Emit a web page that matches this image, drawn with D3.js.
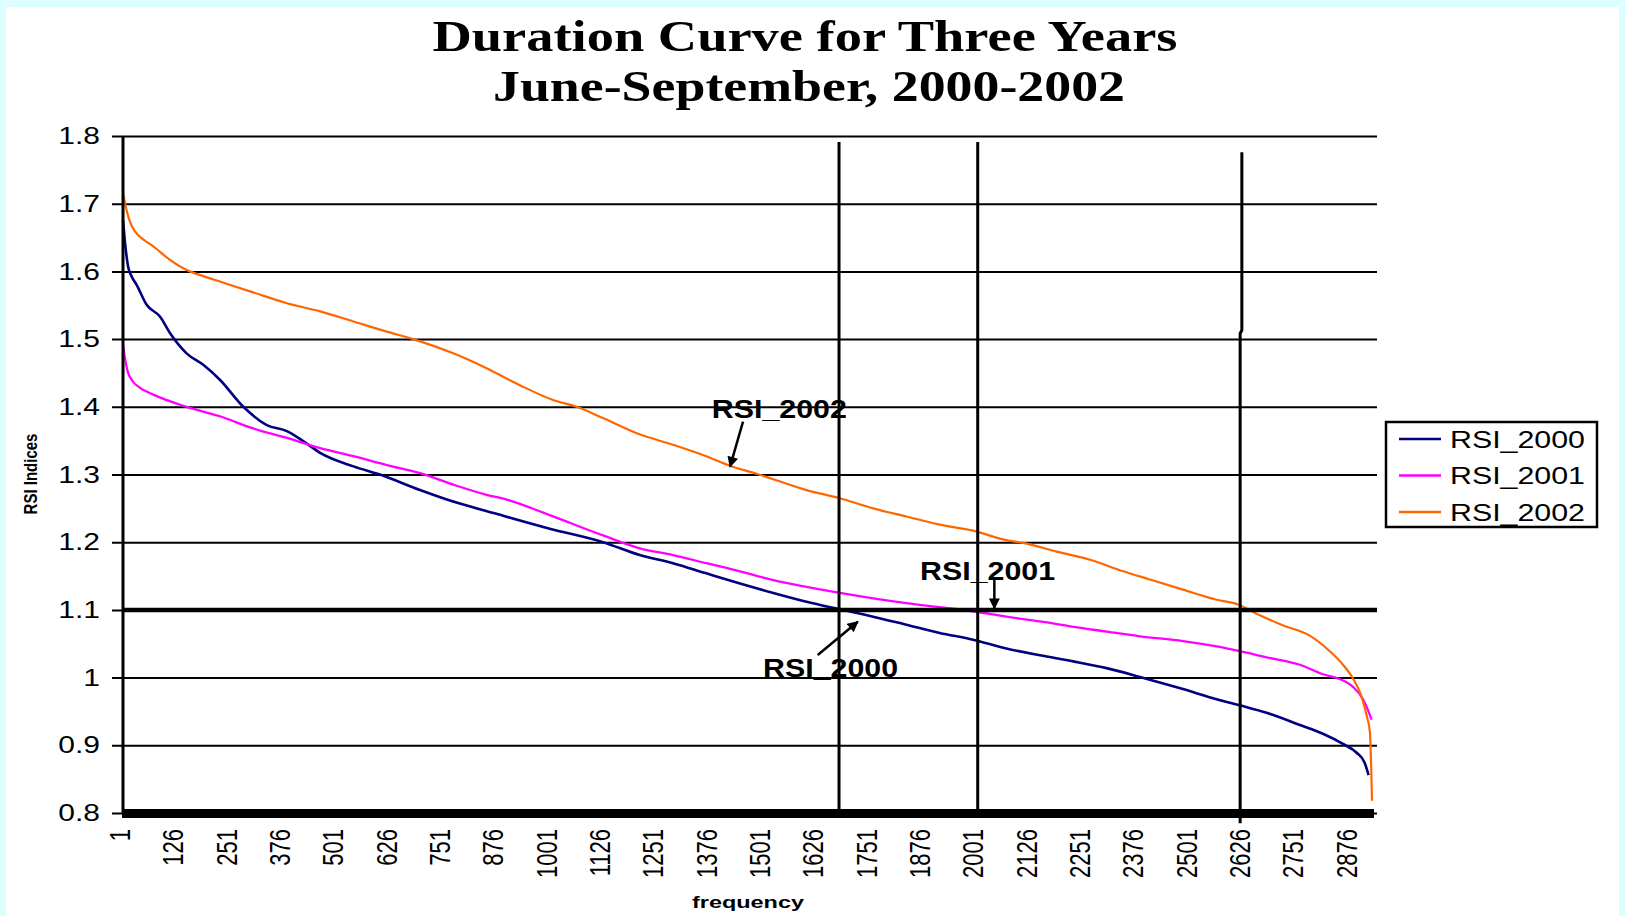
<!DOCTYPE html>
<html><head><meta charset="utf-8">
<script src="https://cdn.jsdelivr.net/npm/d3@7"></script>
<style>html,body{margin:0;padding:0;background:#fff;overflow:hidden}</style>
</head><body><svg id="c" width="1625" height="916"></svg>
<script>
// ---------- data ----------
const titleLines = ["Duration Curve for Three Years", "June-September, 2000-2002"];
const xTitle = "frequency";
const yTitle = "RSI Indices";
const xTicks = [1,126,251,376,501,626,751,876,1001,1126,1251,1376,1501,1626,1751,1876,2001,2126,2251,2376,2501,2626,2751,2876];
const yTicks = [0.8,0.9,1.0,1.1,1.2,1.3,1.4,1.5,1.6,1.7,1.8];
const yTickLabels = ["0.8","0.9","1","1.1","1.2","1.3","1.4","1.5","1.6","1.7","1.8"];
const seriesNames = ["RSI_2000","RSI_2001","RSI_2002"];
const seriesColors = ["#000080","#FF00FF","#FF6600"];

const freq2000 = [1,5,13,21,33,56,88,111,150,189,228,283,338,385,424,463,541,603,697,760,876,1001,1126,1212,1290,1368,1447,1525,1603,1673,1759,1837,1915,1993,2071,2150,2228,2306,2384,2485,2564,2618,2681,2759,2813,2860,2892,2911,2920];
const rsi2000 = [1.676,1.647,1.607,1.593,1.580,1.551,1.533,1.509,1.479,1.462,1.440,1.400,1.373,1.364,1.349,1.332,1.312,1.300,1.277,1.263,1.242,1.220,1.200,1.181,1.169,1.154,1.139,1.125,1.112,1.102,1.090,1.078,1.066,1.056,1.043,1.033,1.024,1.014,1.001,0.983,0.968,0.959,0.948,0.930,0.917,0.902,0.889,0.874,0.856];

const freq2001 = [1,5,13,21,41,72,150,228,306,385,463,541,619,697,775,853,900,1001,1126,1212,1290,1368,1447,1525,1603,1681,1759,1837,1915,1993,2071,2150,2228,2306,2384,2485,2564,2618,2681,2759,2813,2852,2884,2907,2923,2927];
const rsi2001 = [1.492,1.474,1.450,1.440,1.428,1.418,1.400,1.386,1.368,1.354,1.339,1.327,1.314,1.302,1.285,1.270,1.263,1.240,1.210,1.191,1.181,1.169,1.157,1.144,1.134,1.125,1.117,1.110,1.104,1.098,1.090,1.083,1.075,1.068,1.061,1.054,1.046,1.039,1.030,1.019,1.005,0.998,0.986,0.968,0.945,0.938];

const freq2002 = [1,10,17,29,49,72,111,150,189,228,306,385,463,541,619,681,775,853,931,1009,1064,1127,1213,1290,1368,1423,1486,1525,1603,1681,1759,1837,1915,1993,2071,2110,2189,2267,2345,2407,2485,2564,2614,2665,2720,2782,2829,2860,2884,2903,2915,2923,2926,2928];
const rsi2002 = [1.716,1.689,1.674,1.659,1.647,1.637,1.617,1.602,1.593,1.585,1.569,1.553,1.541,1.526,1.511,1.500,1.479,1.457,1.432,1.410,1.400,1.383,1.359,1.344,1.327,1.313,1.301,1.293,1.277,1.265,1.250,1.238,1.226,1.217,1.203,1.199,1.186,1.174,1.157,1.145,1.130,1.115,1.108,1.092,1.077,1.062,1.039,1.019,0.998,0.973,0.945,0.920,0.870,0.818];

const refLevel = 1.1;
const markerFreqs = [1679, 2004];
const marker3Freqs = [2623, 2619];   // drawn line with a small jog
const marker3Jog = 1.513;
const annotations = [
  {text:"RSI_2002", tx:1381, ty:1.3835, from:[1454,1.378], to:[1423.6,1.3115]},
  {text:"RSI_2001", tx:1869, ty:1.1442, from:[2043,1.1442], to:[2043,1.1024]},
  {text:"RSI_2000", tx:1501, ty:1.0009, from:[1629,1.0334], to:[1723,1.0826]}
];

// ---------- chart ----------
const svg = d3.select("#c");
svg.append("rect").attr("width",1625).attr("height",916).attr("fill","#DDFEFF");
svg.append("rect").attr("x",6).attr("y",7).attr("width",1613).attr("height",909).attr("fill","#fff");

const x = d3.scaleLinear().domain([1, 2928]).range([123, 1372]);
const y = d3.scaleLinear().domain([0.8, 1.8]).range([813, 136]);
const plotRight = 1377;

const defs = svg.append("defs");
defs.append("marker").attr("id","arr").attr("viewBox","0 0 10 10").attr("refX",9).attr("refY",5)
  .attr("markerUnits","userSpaceOnUse").attr("markerWidth",12).attr("markerHeight",11).attr("orient","auto")
  .append("path").attr("d","M0,0 L10,5 L0,10 z").attr("fill","#000");

// title
titleLines.forEach((t,i)=>{
  svg.append("text").attr("x", i===0?805:809).attr("y", i===0?51:101)
    .attr("text-anchor","middle").attr("font-family","'Liberation Serif','Times New Roman',serif")
    .attr("font-weight","bold").attr("font-size",45)
    .attr("textLength", i===0?745:632).attr("lengthAdjust","spacingAndGlyphs")
    .attr("fill","#000").text(t);
});

// y axis with gridlines
const gy = svg.append("g").attr("transform","translate(123,0)")
  .call(d3.axisLeft(y).tickValues(yTicks).tickFormat((d,i)=>yTickLabels[i])
        .tickSizeInner(-(plotRight-123)).tickSizeOuter(0).tickPadding(23));
gy.select(".domain").remove();
gy.selectAll(".tick line").attr("x1",-11).attr("stroke","#000").attr("stroke-width",2);
gy.selectAll(".tick text").attr("x",0).attr("transform","translate(-23,0) scale(1.25,1)")
  .attr("font-family","'Liberation Sans',Arial,sans-serif").attr("font-size",24).attr("fill","#000");

// x axis labels
const gx = svg.append("g").attr("transform","translate(0,813)")
  .call(d3.axisBottom(x).tickValues(xTicks).tickSize(0).tickFormat(d3.format("d")));
gx.select(".domain").remove();
gx.selectAll(".tick text").attr("x",0).attr("y",0).attr("dy","0.35em")
  .attr("text-anchor","end").attr("transform","translate(-3.5,16) scale(1.3,1) rotate(-90)")
  .attr("font-family","'Liberation Sans',Arial,sans-serif").attr("font-size",22).attr("fill","#000");

// axis titles
svg.append("text").attr("transform","translate(30,474) scale(1.25,1) rotate(-90)")
  .attr("text-anchor","middle").attr("dy","0.35em")
  .attr("font-family","'Liberation Sans',Arial,sans-serif").attr("font-weight","bold").attr("font-size",15)
  .attr("fill","#000").text(yTitle);
svg.append("text").attr("x",748).attr("y",908).attr("text-anchor","middle")
  .attr("font-family","'Liberation Sans',Arial,sans-serif").attr("font-weight","bold").attr("font-size",16)
  .attr("textLength",112).attr("lengthAdjust","spacingAndGlyphs").attr("fill","#000").text(xTitle);

// series
const series = [
  {f:freq2000, v:rsi2000, w:2.6},
  {f:freq2001, v:rsi2001, w:2.3},
  {f:freq2002, v:rsi2002, w:2.2}
];
const line = d3.line().x(d=>x(d[0])).y(d=>y(d[1])).curve(d3.curveMonotoneX);
series.forEach((s,i)=>{
  svg.append("path").attr("d", line(s.f.map((f,j)=>[f,s.v[j]])))
    .attr("fill","none").attr("stroke",seriesColors[i]).attr("stroke-width",s.w)
    .attr("stroke-linejoin","round");
});

// reference line at 1.1
svg.append("line").attr("x1",x(1)).attr("x2",plotRight).attr("y1",y(refLevel)).attr("y2",y(refLevel))
  .attr("stroke","#000").attr("stroke-width",4.5);
// axes
svg.append("rect").attr("x",122).attr("y",y(0.8)-4).attr("width",1374-122).attr("height",9).attr("fill","#000");
svg.append("line").attr("x1",123).attr("x2",123).attr("y1",y(1.8)).attr("y2",y(0.8)).attr("stroke","#000").attr("stroke-width",3);

// vertical marker lines
markerFreqs.forEach(f=>{
  svg.append("line").attr("x1",x(f)).attr("x2",x(f)).attr("y1",y(1.791)).attr("y2",y(0.8))
    .attr("stroke","#000").attr("stroke-width",3);
});
svg.append("path").attr("d",
  `M${x(marker3Freqs[0])},${y(1.776)} L${x(marker3Freqs[0])},${y(marker3Jog)} L${x(marker3Freqs[1])},${y(marker3Jog)+3} L${x(marker3Freqs[1])},${y(0.785)}`)
  .attr("fill","none").attr("stroke","#000").attr("stroke-width",3);

// annotations
annotations.forEach(a=>{
  svg.append("text").attr("x",x(a.tx)).attr("y",y(a.ty))
    .attr("font-family","'Liberation Sans',Arial,sans-serif").attr("font-weight","bold").attr("font-size",25)
    .attr("textLength",135).attr("lengthAdjust","spacingAndGlyphs").attr("fill","#000").text(a.text);
  svg.append("line").attr("x1",x(a.from[0])).attr("y1",y(a.from[1])).attr("x2",x(a.to[0])).attr("y2",y(a.to[1]))
    .attr("stroke","#000").attr("stroke-width",2.5).attr("marker-end","url(#arr)");
});

// legend
const lg = svg.append("g").attr("transform","translate(1386,422)");
lg.append("rect").attr("width",211).attr("height",105).attr("fill","#fff").attr("stroke","#000").attr("stroke-width",2.5);
seriesNames.forEach((n,i)=>{
  const yy = 17 + i*36.5;
  lg.append("line").attr("x1",13).attr("x2",55).attr("y1",yy).attr("y2",yy)
    .attr("stroke",seriesColors[i]).attr("stroke-width",2.5);
  lg.append("text").attr("x",64).attr("y",yy).attr("dy","0.36em")
    .attr("font-family","'Liberation Sans',Arial,sans-serif").attr("font-size",24)
    .attr("textLength",135).attr("lengthAdjust","spacingAndGlyphs").attr("fill","#000").text(n);
});
</script></body></html>
